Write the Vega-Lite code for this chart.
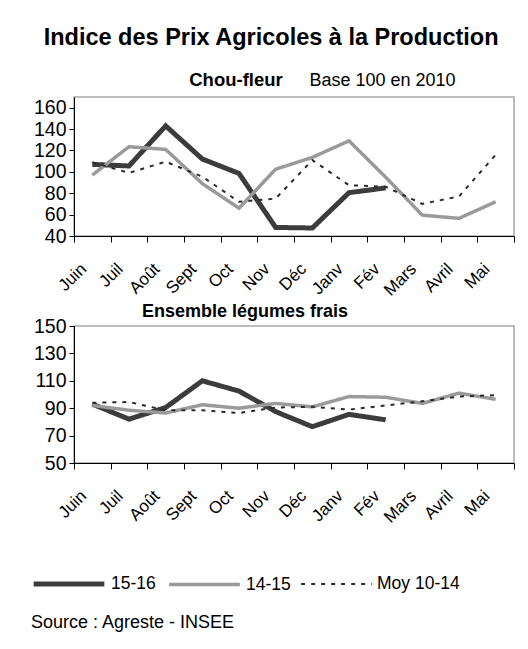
{
  "$schema": "https://vega.github.io/schema/vega-lite/v6.json",
  "background": "white",
  "padding": {"left": 31, "top": 26, "right": 5, "bottom": 5},
  "autosize": {"type": "pad"},
  "config": {
    "font": "Liberation Sans",
    "view": {"stroke": "#a8a8a8", "strokeWidth": 1.5},
    "axis": {"domainColor": "black", "tickColor": "black", "labelColor": "black", "grid": false, "labelFont": "Liberation Sans"},
    "title": {"font": "Liberation Sans", "color": "black"}
  },
  "title": {"text": "Indice des Prix Agricoles à la Production", "fontSize": 23.5, "fontWeight": "bold", "anchor": "middle", "dx": -2, "offset": 20},
  "datasets": {
    "chou": [
      {"m": "Juin", "s": "15-16", "v": 107}, {"m": "Juil", "s": "15-16", "v": 105.5}, {"m": "Août", "s": "15-16", "v": 143}, {"m": "Sept", "s": "15-16", "v": 112}, {"m": "Oct", "s": "15-16", "v": 98.5}, {"m": "Nov", "s": "15-16", "v": 48}, {"m": "Déc", "s": "15-16", "v": 47.5}, {"m": "Janv", "s": "15-16", "v": 80.5}, {"m": "Fév", "s": "15-16", "v": 85},
      {"m": "Juin", "s": "14-15", "v": 97}, {"m": "Juil", "s": "14-15", "v": 123.5}, {"m": "Août", "s": "14-15", "v": 121}, {"m": "Sept", "s": "14-15", "v": 89}, {"m": "Oct", "s": "14-15", "v": 66}, {"m": "Nov", "s": "14-15", "v": 102.5}, {"m": "Déc", "s": "14-15", "v": 113.5}, {"m": "Janv", "s": "14-15", "v": 129}, {"m": "Fév", "s": "14-15", "v": 95}, {"m": "Mars", "s": "14-15", "v": 59.5}, {"m": "Avril", "s": "14-15", "v": 56.5}, {"m": "Mai", "s": "14-15", "v": 72},
      {"m": "Juin", "s": "Moy 10-14", "v": 109}, {"m": "Juil", "s": "Moy 10-14", "v": 99}, {"m": "Août", "s": "Moy 10-14", "v": 109.5}, {"m": "Sept", "s": "Moy 10-14", "v": 95.5}, {"m": "Oct", "s": "Moy 10-14", "v": 72}, {"m": "Nov", "s": "Moy 10-14", "v": 75}, {"m": "Déc", "s": "Moy 10-14", "v": 111}, {"m": "Janv", "s": "Moy 10-14", "v": 87.5}, {"m": "Fév", "s": "Moy 10-14", "v": 86}, {"m": "Mars", "s": "Moy 10-14", "v": 70}, {"m": "Avril", "s": "Moy 10-14", "v": 77}, {"m": "Mai", "s": "Moy 10-14", "v": 116}
    ],
    "legumes": [
      {"m": "Juin", "s": "15-16", "v": 93}, {"m": "Juil", "s": "15-16", "v": 82}, {"m": "Août", "s": "15-16", "v": 90.5}, {"m": "Sept", "s": "15-16", "v": 110}, {"m": "Oct", "s": "15-16", "v": 102.5}, {"m": "Nov", "s": "15-16", "v": 87.5}, {"m": "Déc", "s": "15-16", "v": 76.5}, {"m": "Janv", "s": "15-16", "v": 85.5}, {"m": "Fév", "s": "15-16", "v": 81.5},
      {"m": "Juin", "s": "14-15", "v": 92}, {"m": "Juil", "s": "14-15", "v": 88.5}, {"m": "Août", "s": "14-15", "v": 86.5}, {"m": "Sept", "s": "14-15", "v": 92.5}, {"m": "Oct", "s": "14-15", "v": 90}, {"m": "Nov", "s": "14-15", "v": 93.5}, {"m": "Déc", "s": "14-15", "v": 91}, {"m": "Janv", "s": "14-15", "v": 98.5}, {"m": "Fév", "s": "14-15", "v": 98}, {"m": "Mars", "s": "14-15", "v": 93.5}, {"m": "Avril", "s": "14-15", "v": 101}, {"m": "Mai", "s": "14-15", "v": 96.5},
      {"m": "Juin", "s": "Moy 10-14", "v": 94}, {"m": "Juil", "s": "Moy 10-14", "v": 94.5}, {"m": "Août", "s": "Moy 10-14", "v": 88.5}, {"m": "Sept", "s": "Moy 10-14", "v": 88.5}, {"m": "Oct", "s": "Moy 10-14", "v": 86.5}, {"m": "Nov", "s": "Moy 10-14", "v": 90.5}, {"m": "Déc", "s": "Moy 10-14", "v": 91}, {"m": "Janv", "s": "Moy 10-14", "v": 89}, {"m": "Fév", "s": "Moy 10-14", "v": 92}, {"m": "Mars", "s": "Moy 10-14", "v": 95}, {"m": "Avril", "s": "Moy 10-14", "v": 98.5}, {"m": "Mai", "s": "Moy 10-14", "v": 99.5}
    ]
  },
  "spacing": 2,
  "vconcat": [
    {
      "width": 440,
      "height": 139,
      "data": {"name": "chou"},
      "title": {"text": "Chou-fleur", "fontSize": 18.5, "fontWeight": "bold", "anchor": "middle", "dx": -58, "offset": -18},
      "mark": {"type": "line", "strokeCap": "butt", "strokeJoin": "miter"},
      "encoding": {
        "x": {"field": "m", "type": "nominal", "sort": ["Juin", "Juil", "Août", "Sept", "Oct", "Nov", "Déc", "Janv", "Fév", "Mars", "Avril", "Mai"],
          "scale": {"type": "band", "paddingInner": 0, "paddingOuter": 0},
          "axis": {"title": null, "tickBand": "extent", "labelAngle": -45, "labelAlign": "right", "labelBaseline": "middle", "labelFontSize": 17, "tickSize": 6, "labelPadding": 24, "labelOffset": -9, "domainWidth": 1}},
        "y": {"field": "v", "type": "quantitative", "scale": {"domain": [40, 170], "nice": false, "zero": false},
          "axis": {"values": [40, 60, 80, 100, 120, 140, 160], "labelFontSize": 19.5, "tickSize": 5, "labelPadding": 3,
            "title": "Base 100 en 2010", "titleAngle": 0, "titleFontWeight": "normal", "titleFontSize": 18, "titleX": 235, "titleY": -12, "titleAlign": "left", "titleBaseline": "alphabetic"}},
        "color": {"field": "s", "type": "nominal", "scale": {"domain": ["15-16", "14-15", "Moy 10-14"], "range": ["#3c3c3c", "#9a9a9a", "#2a2a2a"]},
          "legend": {"orient": "none", "legendX": -43, "legendY": 449, "direction": "horizontal", "symbolType": "stroke", "symbolSize": 5000, "labelFontSize": 17.5, "labelFont": "Liberation Sans", "labelColor": "black", "labelOffset": 4, "columnPadding": 6,
            "title": "Source : Agreste - INSEE", "titleLimit": 500, "titleOrient": "bottom", "titleAnchor": "start", "titleFontSize": 18, "titleFontWeight": "normal", "titlePadding": 20, "titleColor": "black", "titleFont": "Liberation Sans"}},
        "strokeWidth": {"field": "s", "type": "nominal", "scale": {"domain": ["15-16", "14-15", "Moy 10-14"], "range": [5, 2, 3]}, "legend": null},
        "strokeDash": {"field": "s", "type": "nominal", "scale": {"domain": ["15-16", "14-15", "Moy 10-14"], "range": [[1, 0], [1, 0], [4, 6]]}, "legend": null}
      }
    },
    {
      "width": 440,
      "height": 137,
      "data": {"name": "legumes"},
      "title": {"text": "Ensemble légumes frais", "fontSize": 18, "fontWeight": "bold", "anchor": "middle", "dx": -49, "offset": -5},
      "mark": {"type": "line", "strokeCap": "butt", "strokeJoin": "miter"},
      "encoding": {
        "x": {"field": "m", "type": "nominal", "sort": ["Juin", "Juil", "Août", "Sept", "Oct", "Nov", "Déc", "Janv", "Fév", "Mars", "Avril", "Mai"],
          "scale": {"type": "band", "paddingInner": 0, "paddingOuter": 0},
          "axis": {"title": null, "tickBand": "extent", "labelAngle": -45, "labelAlign": "right", "labelBaseline": "middle", "labelFontSize": 17, "tickSize": 6, "labelPadding": 24, "labelOffset": -9}},
        "y": {"field": "v", "type": "quantitative", "scale": {"domain": [50, 150], "nice": false, "zero": false},
          "axis": {"values": [50, 70, 90, 110, 130, 150], "labelFontSize": 19.5, "tickSize": 5, "labelPadding": 3, "title": null}},
        "color": {"field": "s", "type": "nominal", "scale": {"domain": ["15-16", "14-15", "Moy 10-14"], "range": ["#3c3c3c", "#9a9a9a", "#2a2a2a"]}},
        "strokeWidth": {"field": "s", "type": "nominal", "scale": {"domain": ["15-16", "14-15", "Moy 10-14"], "range": [5, 2, 3]}, "legend": null},
        "strokeDash": {"field": "s", "type": "nominal", "scale": {"domain": ["15-16", "14-15", "Moy 10-14"], "range": [[1, 0], [1, 0], [4, 6]]}, "legend": null}
      }
    }
  ]
}
